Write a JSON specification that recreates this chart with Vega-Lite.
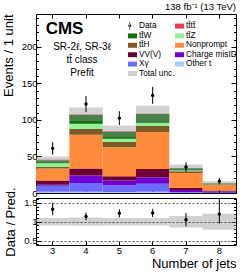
{
  "$schema": "https://vega.github.io/schema/vega-lite/v6.json",
  "padding": {"left": 1, "top": 1, "right": 5, "bottom": 2},
  "spacing": 5,
  "bounds": "flush",
  "config": {
    "font": "Liberation Sans",
    "view": {"stroke": "black", "strokeWidth": 1},
    "axis": {"domain": false, "grid": false, "tickColor": "black", "labelColor": "black", "titleColor": "black", "titleFontWeight": "normal", "labelFontSize": 9.5, "titleFontSize": 13, "labelFont": "Liberation Sans", "titleFont": "Liberation Sans"}
  },
  "datasets": {
    "stack": [
      {"jets": 3, "process": "Other t", "k": 1, "events": 1.6},
      {"jets": 3, "process": "Xγ", "k": 2, "events": 8.2},
      {"jets": 3, "process": "Charge misID", "k": 3, "events": 1.4},
      {"jets": 3, "process": "VV(V)", "k": 4, "events": 5.8},
      {"jets": 3, "process": "Nonprompt", "k": 5, "events": 16.4},
      {"jets": 3, "process": "tt̄H", "k": 6, "events": 2.1},
      {"jets": 3, "process": "tt̄Z", "k": 7, "events": 5.1},
      {"jets": 3, "process": "tt̄W", "k": 8, "events": 4.1},
      {"jets": 3, "process": "tt̄tt̄", "k": 9, "events": 0.7},
      {"jets": 4, "process": "Other t", "k": 1, "events": 1.6},
      {"jets": 4, "process": "Xγ", "k": 2, "events": 12.1},
      {"jets": 4, "process": "Charge misID", "k": 3, "events": 10.1},
      {"jets": 4, "process": "VV(V)", "k": 4, "events": 9.6},
      {"jets": 4, "process": "Nonprompt", "k": 5, "events": 46.4},
      {"jets": 4, "process": "tt̄H", "k": 6, "events": 7.7},
      {"jets": 4, "process": "tt̄Z", "k": 7, "events": 7.4},
      {"jets": 4, "process": "tt̄W", "k": 8, "events": 12.0},
      {"jets": 4, "process": "tt̄tt̄", "k": 9, "events": 0.7},
      {"jets": 5, "process": "Other t", "k": 1, "events": 1.4},
      {"jets": 5, "process": "Xγ", "k": 2, "events": 9.1},
      {"jets": 5, "process": "Charge misID", "k": 3, "events": 6.5},
      {"jets": 5, "process": "VV(V)", "k": 4, "events": 5.8},
      {"jets": 5, "process": "Nonprompt", "k": 5, "events": 39.7},
      {"jets": 5, "process": "tt̄H", "k": 6, "events": 7.2},
      {"jets": 5, "process": "tt̄Z", "k": 7, "events": 4.7},
      {"jets": 5, "process": "tt̄W", "k": 8, "events": 9.6},
      {"jets": 5, "process": "tt̄tt̄", "k": 9, "events": 0.4},
      {"jets": 6, "process": "Other t", "k": 1, "events": 1.6},
      {"jets": 6, "process": "Xγ", "k": 2, "events": 11.2},
      {"jets": 6, "process": "Charge misID", "k": 3, "events": 8.7},
      {"jets": 6, "process": "VV(V)", "k": 4, "events": 11.3},
      {"jets": 6, "process": "Nonprompt", "k": 5, "events": 50.6},
      {"jets": 6, "process": "tt̄H", "k": 6, "events": 8.2},
      {"jets": 6, "process": "tt̄Z", "k": 7, "events": 4.6},
      {"jets": 6, "process": "tt̄W", "k": 8, "events": 11.8},
      {"jets": 6, "process": "tt̄tt̄", "k": 9, "events": 0.5},
      {"jets": 7, "process": "Other t", "k": 1, "events": 0.5},
      {"jets": 7, "process": "Xγ", "k": 2, "events": 0.9},
      {"jets": 7, "process": "Charge misID", "k": 3, "events": 2.7},
      {"jets": 7, "process": "VV(V)", "k": 4, "events": 2.7},
      {"jets": 7, "process": "Nonprompt", "k": 5, "events": 20.5},
      {"jets": 7, "process": "tt̄H", "k": 6, "events": 2.4},
      {"jets": 7, "process": "tt̄Z", "k": 7, "events": 1.3},
      {"jets": 7, "process": "tt̄W", "k": 8, "events": 2.8},
      {"jets": 7, "process": "tt̄tt̄", "k": 9, "events": 0.1},
      {"jets": 8, "process": "Other t", "k": 1, "events": 0.2},
      {"jets": 8, "process": "Xγ", "k": 2, "events": 0.3},
      {"jets": 8, "process": "Charge misID", "k": 3, "events": 1.5},
      {"jets": 8, "process": "VV(V)", "k": 4, "events": 1.3},
      {"jets": 8, "process": "Nonprompt", "k": 5, "events": 7.8},
      {"jets": 8, "process": "tt̄H", "k": 6, "events": 0.8},
      {"jets": 8, "process": "tt̄Z", "k": 7, "events": 0.6},
      {"jets": 8, "process": "tt̄W", "k": 8, "events": 0.8},
      {"jets": 8, "process": "tt̄tt̄", "k": 9, "events": 0.1}
    ],
    "bins": [
      {"jets": 3, "data": 61.1, "data_lo": 52.6, "data_hi": 69.6, "unc_lo": 40.9, "unc_hi": 49.9, "ratio": 1.33, "ratio_lo": 1.17, "ratio_hi": 1.5, "runc_lo": 0.9, "runc_hi": 1.1},
      {"jets": 4, "data": 121.7, "data_lo": 110.7, "data_hi": 132.7, "unc_lo": 98.1, "unc_hi": 117.1, "ratio": 1.14, "ratio_lo": 1.04, "ratio_hi": 1.24, "runc_lo": 0.89, "runc_hi": 1.11},
      {"jets": 5, "data": 102.5, "data_lo": 93.0, "data_hi": 112.0, "unc_lo": 76.4, "unc_hi": 92.4, "ratio": 1.22, "ratio_lo": 1.11, "ratio_hi": 1.33, "runc_lo": 0.9, "runc_hi": 1.1},
      {"jets": 6, "data": 133.6, "data_lo": 122.1, "data_hi": 145.1, "unc_lo": 97.5, "unc_hi": 119.5, "ratio": 1.23, "ratio_lo": 1.12, "ratio_hi": 1.34, "runc_lo": 0.9, "runc_hi": 1.1},
      {"jets": 7, "data": 35.5, "data_lo": 29.0, "data_hi": 42.0, "unc_lo": 28.9, "unc_hi": 38.9, "ratio": 1.05, "ratio_lo": 0.88, "ratio_hi": 1.23, "runc_lo": 0.85, "runc_hi": 1.15},
      {"jets": 8, "data": 16.0, "data_lo": 12.0, "data_hi": 20.4, "unc_lo": 10.6, "unc_hi": 16.2, "ratio": 1.2, "ratio_lo": 0.95, "ratio_hi": 1.62, "runc_lo": 0.79, "runc_hi": 1.21}
    ]
  },
  "vconcat": [
    {
      "width": 200,
      "height": 179,
      "title": {"text": "138 fb⁻¹ (13 TeV)", "anchor": "end", "frame": "group", "fontSize": 9.5, "fontWeight": "normal", "font": "Liberation Sans", "offset": 2, "color": "black"},
      "resolve": {"axis": {"x": "independent", "y": "independent"}},
      "layer": [
        {
          "data": {"name": "stack"},
          "mark": {"type": "bar"},
          "encoding": {
            "x": {"field": "jets", "type": "ordinal", "scale": {"paddingInner": 0, "paddingOuter": 0},
                  "axis": {"orient": "bottom", "labels": false, "title": null, "tickSize": -4, "minExtent": 0, "maxExtent": 0}},
            "y": {"field": "events", "type": "quantitative", "stack": "zero",
                  "scale": {"domain": [0, 245], "nice": false, "zero": true},
                  "axis": {"orient": "left", "title": "Events / 1 unit", "titleAnchor": "end", "titlePadding": 6,
                           "values": [0,10,20,30,40,50,60,70,80,90,100,110,120,130,140,150,160,170,180,190,200,210,220,230,240],
                           "labelExpr": "datum.value % 50 === 0 ? datum.label : ''",
                           "tickSize": {"condition": {"test": "datum.value % 50 === 0", "value": -5}, "value": -2.5},
                           "labelPadding": 4}},
            "color": {"field": "process", "type": "nominal",
                      "scale": {"domain": ["Data","tt̄W","tt̄H","VV(V)","Xγ","Total unc.","tt̄tt̄","tt̄Z","Nonprompt","Charge misID","Other t"],
                                "range": ["black","#0a6e0a","#7d5a28","#6e0032","#6b6bff","#d0d0d0","#f03c50","#94f094","#ff8c3c","#6e00d2","#a3cdf7"]},
                      "legend": {"orient": "none", "legendX": 92, "legendY": 7, "columns": 2, "title": null, "padding": 0,
                                 "symbolSize": 81, "symbolStrokeWidth": 0, "symbolOpacity": 1, "labelFontSize": 8.3, "labelOffset": 2,
                                 "rowPadding": 0.4, "columnPadding": 0, "labelColor": "black", "labelFont": "Liberation Sans",
                                 "encode": {"symbols": {"update": {"shape": {"signal": "datum.value === 'Data' ? 'M-0.95,0A0.35,0.35,0,1,0,-0.25,0A0.35,0.35,0,1,0,-0.95,0ZM-0.67,-0.9H-0.53V0.9H-0.67Z' : 'M-1,-0.55H1V0.55H-1Z'"}}}}}},
            "order": {"field": "k", "type": "quantitative", "sort": "ascending"}
          }
        },
        {
          "data": {"name": "bins"},
          "mark": {"type": "bar", "color": "#9a9a9a", "opacity": 0.45},
          "encoding": {
            "x": {"field": "jets", "type": "ordinal", "axis": {"orient": "top", "labels": false, "title": null, "tickSize": -4, "minExtent": 0, "maxExtent": 0}},
            "y": {"field": "unc_lo", "type": "quantitative",
                  "axis": {"orient": "right", "title": null, "labels": false, "minExtent": 0, "maxExtent": 0,
                           "values": [0,10,20,30,40,50,60,70,80,90,100,110,120,130,140,150,160,170,180,190,200,210,220,230,240],
                           "tickSize": {"condition": {"test": "datum.value % 50 === 0", "value": -5}, "value": -2.5}}},
            "y2": {"field": "unc_hi"}
          }
        },
        {
          "data": {"name": "bins"},
          "mark": {"type": "rule", "color": "black", "strokeWidth": 1},
          "encoding": {
            "x": {"field": "jets", "type": "ordinal", "axis": null},
            "y": {"field": "data_lo", "type": "quantitative", "axis": null},
            "y2": {"field": "data_hi"}
          }
        },
        {
          "data": {"name": "bins"},
          "mark": {"type": "circle", "color": "black", "size": 12, "opacity": 1},
          "encoding": {
            "x": {"field": "jets", "type": "ordinal", "axis": null},
            "y": {"field": "data", "type": "quantitative", "axis": null}
          }
        },
        {
          "data": {"values": [{}]},
          "mark": {"type": "text", "text": "CMS", "font": "Liberation Sans", "fontWeight": "bold", "fontSize": 17, "align": "left", "baseline": "middle", "dx": -7, "color": "black"},
          "encoding": {
            "x": {"datum": 3, "type": "ordinal", "axis": null},
            "y": {"datum": 225, "type": "quantitative", "axis": null}
          }
        },
        {
          "data": {"values": [{}]},
          "mark": {"type": "text", "text": ["SR-2ℓ, SR-3ℓ", "tt̄ class", "Prefit"], "font": "Liberation Sans", "fontSize": 10, "lineHeight": 13, "align": "center", "baseline": "middle", "dx": -4, "color": "black"},
          "encoding": {
            "x": {"datum": 4, "type": "ordinal", "axis": null},
            "y": {"datum": 200, "type": "quantitative", "axis": null}
          }
        }
      ]
    },
    {
      "width": 200,
      "height": 47,
      "resolve": {"axis": {"y": "independent"}},
      "layer": [
        {
          "data": {"name": "bins"},
          "mark": {"type": "bar", "color": "#9a9a9a", "opacity": 0.45},
          "encoding": {
            "x": {"field": "jets", "type": "ordinal", "scale": {"paddingInner": 0, "paddingOuter": 0},
                  "axis": {"orient": "bottom", "title": "Number of jets", "titleAnchor": "end", "labelAngle": 0, "tickSize": -4, "labelPadding": 4, "titlePadding": 3}},
            "y": {"field": "runc_lo", "type": "quantitative", "scale": {"domain": [0.385, 1.625], "nice": false, "zero": false},
                  "axis": {"orient": "left", "title": "Data / Pred.", "titleAnchor": "middle", "titlePadding": 6, "zindex": 1, "format": "~g",
                           "values": [0.4,0.5,0.6,0.7,0.8,0.9,1,1.1,1.2,1.3,1.4,1.5,1.6],
                           "labelExpr": "abs(datum.value*2 - round(datum.value*2)) < 0.001 ? datum.label : ''",
                           "tickSize": {"condition": {"test": "abs(datum.value*2 - round(datum.value*2)) < 0.001", "value": -5}, "value": -2.5},
                           "grid": true, "gridDash": [2, 2], "gridColor": "#333333", "gridWidth": 0.8,
                           "gridOpacity": {"condition": {"test": "abs(datum.value*2 - round(datum.value*2)) < 0.001", "value": 1}, "value": 0},
                           "labelPadding": 4}},
            "y2": {"field": "runc_hi"}
          }
        },
        {
          "data": {"name": "bins"},
          "mark": {"type": "rule", "color": "black", "strokeWidth": 1, "clip": true},
          "encoding": {
            "x": {"field": "jets", "type": "ordinal"},
            "y": {"field": "ratio_lo", "type": "quantitative",
                  "axis": {"orient": "right", "title": null, "labels": false, "minExtent": 0, "maxExtent": 0,
                           "values": [0.4,0.5,0.6,0.7,0.8,0.9,1,1.1,1.2,1.3,1.4,1.5,1.6],
                           "tickSize": {"condition": {"test": "abs(datum.value*2 - round(datum.value*2)) < 0.001", "value": -5}, "value": -2.5}}},
            "y2": {"field": "ratio_hi"}
          }
        },
        {
          "data": {"name": "bins"},
          "mark": {"type": "circle", "color": "black", "size": 12, "opacity": 1},
          "encoding": {
            "x": {"field": "jets", "type": "ordinal"},
            "y": {"field": "ratio", "type": "quantitative", "axis": null}
          }
        }
      ]
    }
  ]
}
